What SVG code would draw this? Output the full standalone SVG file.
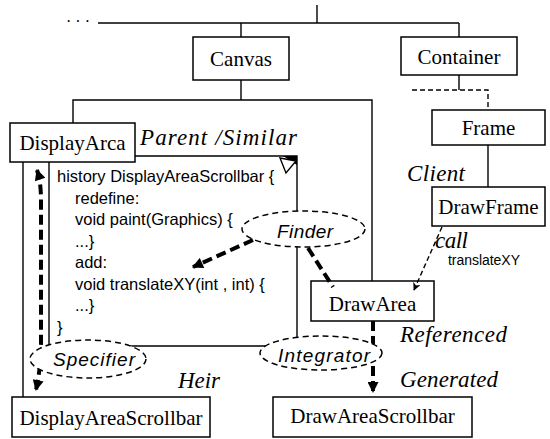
<svg xmlns="http://www.w3.org/2000/svg" width="550" height="439" viewBox="0 0 550 439">
<defs>
<style>
.box{fill:#fff;stroke:#000;stroke-width:1.5}
.ln{fill:none;stroke:#000;stroke-width:1.4}
.dash{fill:none;stroke:#000;stroke-width:1.4;stroke-dasharray:5 3}
.thick{fill:none;stroke:#000;stroke-width:4;stroke-dasharray:10 5}
.ell{fill:#fff;stroke:#000;stroke-width:1.5;stroke-dasharray:6 4}
.lbl{font-family:"Liberation Serif","Times New Roman",serif;font-size:21px;text-anchor:middle;fill:#000}
.it{font-family:"Liberation Serif","Times New Roman",serif;font-size:23px;font-style:italic;fill:#000}
.code{font-family:"Liberation Sans",Arial,sans-serif;font-size:16.5px;fill:#000}
.role{font-family:"Liberation Sans",Arial,sans-serif;font-size:19px;font-style:italic;fill:#000}
</style>
<marker id="ah" viewBox="0 0 10 10" refX="9" refY="5" markerWidth="13" markerHeight="11" markerUnits="userSpaceOnUse" orient="auto-start-reverse">
<path d="M0,0 L10,5 L0,10 z" fill="#000"/>
</marker>
<marker id="ahs" viewBox="0 0 10 10" refX="9" refY="5" markerWidth="9" markerHeight="8" markerUnits="userSpaceOnUse" orient="auto">
<path d="M0,0 L10,5 L0,10 L3,5 z" fill="#000"/>
</marker>
</defs>

<g id="connectors">
<line class="ln" x1="317" y1="5" x2="317" y2="23"/>
<line class="ln" x1="98" y1="23" x2="459" y2="23"/>
<line class="ln" x1="241" y1="23" x2="241" y2="37"/>
<line class="ln" x1="459" y1="23" x2="459" y2="37"/>
<line class="ln" x1="241" y1="80" x2="241" y2="100"/>
<polyline class="ln" points="73,123 73,100 372,100 372,281"/>
<line class="ln" x1="459" y1="75" x2="459" y2="90"/>
<polyline class="dash" points="412,90 488,90 488,110"/>
<line class="ln" x1="488" y1="145" x2="488" y2="187"/>
<line class="ln" x1="23" y1="162" x2="23" y2="397"/>
<polyline class="ln" points="135,156 297,156 297,345"/>
<polyline class="ln" points="49,162 49,346 297,346"/>
<path class="thick" d="M37,170 Q41,182 41,200 L41,340 Q41,368 36,390" marker-start="url(#ah)" marker-end="url(#ah)"/>
<path class="thick" d="M373,321 L373,392" marker-end="url(#ah)"/>
</g>

<g id="code">
<text class="code" x="57" y="182">history DisplayAreaScrollbar {</text>
<text class="code" x="75" y="203.5">redefine:</text>
<text class="code" x="75" y="225">void paint(Graphics) {</text>
<text class="code" x="75" y="246.5">...}</text>
<text class="code" x="75" y="268">add:</text>
<text class="code" x="75" y="289.5">void translateXY(int , int) {</text>
<text class="code" x="75" y="311">...}</text>
<text class="code" x="57" y="332.5">}</text>
<polygon points="283,156 297,156 297,165" fill="#000"/>
<polygon points="280,158 296,161 286,173" fill="#fff" stroke="#000" stroke-width="1.4"/>
</g>

<g id="dots"><text x="66" y="27" font-family="Liberation Serif,serif" font-size="16" fill="#000">· · ·</text></g>

<g id="canvas"><rect class="box" x="193" y="37" width="96" height="43"/><text class="lbl" x="241" y="66">Canvas</text></g>
<g id="container"><rect class="box" x="401" y="37" width="116" height="38"/><text class="lbl" x="459" y="64">Container</text></g>
<g id="frame"><rect class="box" x="432" y="110" width="113" height="35"/><text class="lbl" x="488.5" y="135">Frame</text></g>
<g id="drawframe"><rect class="box" x="432" y="187" width="113" height="39"/><text class="lbl" x="488.5" y="214">DrawFrame</text></g>
<g id="displayarca"><rect class="box" x="10" y="123" width="125" height="39"/><text class="lbl" x="72.5" y="150">DisplayArca</text></g>
<g id="drawarea"><rect class="box" x="311" y="281" width="123" height="40"/><text class="lbl" x="372.5" y="311">DrawArea</text></g>
<g id="displayareascrollbar"><rect class="box" x="12" y="397" width="198" height="40"/><text class="lbl" x="111" y="425">DisplayAreaScrollbar</text></g>
<g id="drawareascrollbar"><rect class="box" x="273" y="397" width="199" height="40" stroke-width="3"/><text class="lbl" x="372.5" y="423">DrawAreaScrollbar</text></g>

<g id="finder"><ellipse class="ell" cx="303.5" cy="229" rx="61.5" ry="18"/><text class="role" x="277" y="238" textLength="56">Finder</text></g>
<g id="specifier"><ellipse class="ell" cx="88" cy="359" rx="58" ry="19"/><text class="role" x="53" y="366" textLength="82">Specifier</text></g>
<g id="integrator"><ellipse class="ell" cx="321" cy="353" rx="61" ry="17"/><text class="role" x="278" y="362" textLength="92">Integrator</text></g>

<g id="role-arrows">
<path class="thick" d="M253,240 L193,267" marker-end="url(#ah)"/>
<path class="thick" d="M308,248 L333,287"/>
<path class="dash" d="M442,227 L414,290" marker-end="url(#ahs)"/>
</g>

<g id="labels">
<text class="it" x="140" y="145" textLength="157">Parent /Similar</text>
<text class="it" x="407" y="181" textLength="58">Client</text>
<text class="it" x="435" y="248" textLength="33">call</text>
<text x="448" y="265" font-family="Liberation Sans,Arial,sans-serif" font-size="14" textLength="72" fill="#000">translateXY</text>
<text class="it" x="178" y="388" textLength="42">Heir</text>
<text class="it" x="400" y="342" textLength="107">Referenced</text>
<text class="it" x="400" y="387" textLength="98">Generated</text>
</g>
</svg>
